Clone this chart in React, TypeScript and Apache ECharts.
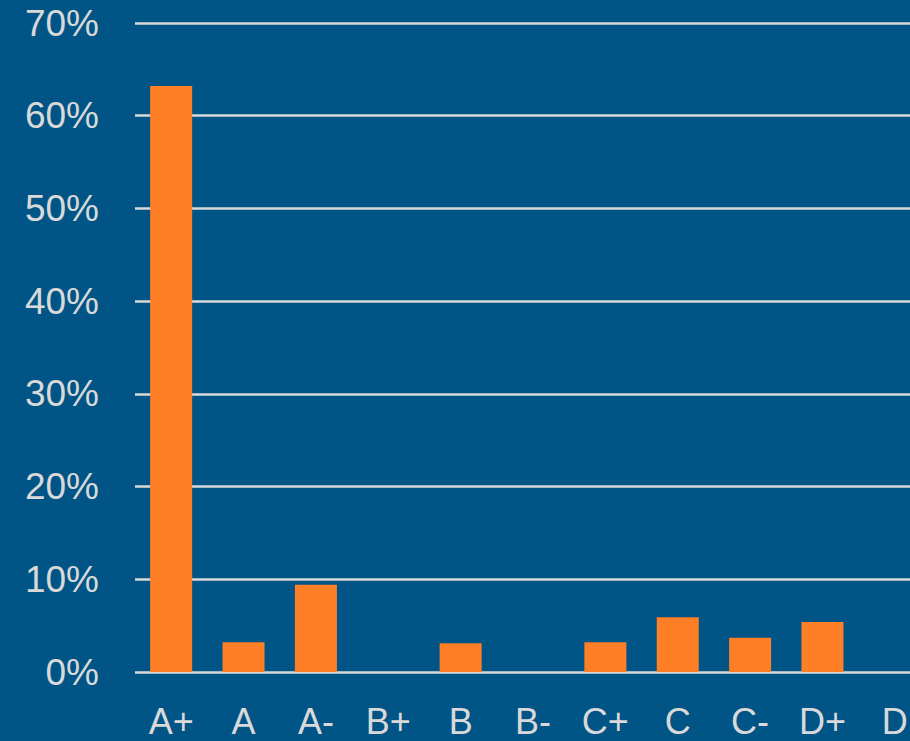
import React, { useEffect, useRef } from "react";
import * as echarts from "echarts";

const categories = ["A+", "A", "A-", "B+", "B", "B-", "C+", "C", "C-", "D+", "D"];
const shares = [63.2, 3.2, 9.4, 0, 3.1, 0, 3.2, 5.9, 3.7, 5.4, 0];
const yTicks = [0, 10, 20, 30, 40, 50, 60, 70];

export default function App() {
  const ref = useRef<HTMLDivElement>(null);
  useEffect(() => {
    if (!ref.current) return;
    const chart = echarts.init(ref.current, undefined, { renderer: "svg" });
    chart.setOption({
      animation: false,
      backgroundColor: "#005586",
      grid: { left: 135, right: 0, top: 23, bottom: 69, containLabel: false },
      xAxis: {
        type: "category",
        data: categories,
        axisLine: { show: false },
        axisTick: { show: false },
        axisLabel: {
          color: "#d9d9d9",
          fontSize: 36,
          lineHeight: 36,
          fontFamily: "Liberation Sans, Arial, sans-serif",
          margin: 31,
          interval: 0,
        },
      },
      yAxis: {
        type: "value",
        min: yTicks[0],
        max: yTicks[yTicks.length - 1],
        interval: 10,
        axisLine: { show: false },
        axisTick: { show: false },
        splitLine: { lineStyle: { color: "#d9d9d9", width: 2.5 } },
        axisLabel: {
          color: "#d9d9d9",
          fontSize: 37,
          fontFamily: "Liberation Sans, Arial, sans-serif",
          margin: 36,
          formatter: (v: number) => `${v}%`,
        },
      },
      series: [
        {
          type: "bar",
          data: shares,
          barWidth: 42,
          itemStyle: { color: "#FF7F27" },
        },
      ],
    });
    return () => chart.dispose();
  }, []);
  return (
    <div style={{ position: "fixed", left: 0, top: 0, width: 910, height: 741, overflow: "hidden", background: "#005586" }}>
      <div ref={ref} style={{ width: 931, height: 741 }} />
    </div>
  );
}
